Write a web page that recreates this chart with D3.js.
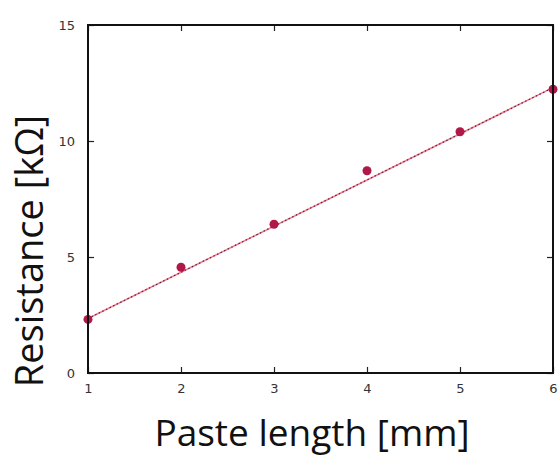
<!DOCTYPE html>
<html><head><meta charset="utf-8">
<script src="https://cdn.jsdelivr.net/npm/d3@7"></script>
<style>body{margin:0;background:#fff}svg{display:block}</style>
</head><body>
<svg id="c" width="560" height="459"></svg>
<script>
const lengths = [1, 2, 3, 4, 5, 6];
const resistance = [2.31, 4.56, 6.41, 8.72, 10.4, 12.23];
const fitX = [1, 6];
const fitY = [2.35, 12.3];
const xTicks = [1, 2, 3, 4, 5, 6];
const yTicks = [0, 5, 10, 15];

const svg = d3.select("#c");
const m = {l: 88, r: 7, t: 25, b: 86};
const W = 560, H = 459;
const x = d3.scaleLinear().domain([1, 6]).range([m.l, W - m.r]);
const y = d3.scaleLinear().domain([0, 15]).range([H - m.b, m.t]);

const g = svg.append("g");
const line = d3.line().x((d, i) => x(fitX[i])).y(d => y(d));
g.append("path").datum(fitY).attr("d", line).attr("fill", "none")
  .attr("stroke", "#f08098").attr("stroke-width", 1.6);
g.append("path").datum(fitY).attr("d", line).attr("fill", "none")
  .attr("stroke", "#6a2035").attr("stroke-width", 1.2).attr("stroke-dasharray", "1.5,2.5");

g.selectAll("circle").data(lengths).join("circle")
  .attr("cx", d => x(d)).attr("cy", (d, i) => y(resistance[i])).attr("r", 4.5)
  .attr("fill", "#b01848");

const tl = 6;
const fontTick = "13px 'DejaVu Sans'";
const axB = d3.axisBottom(x).tickValues(xTicks).tickSize(-tl).tickPadding(tl + 5).tickFormat(d3.format("d"));
const axT = d3.axisTop(x).tickValues(xTicks).tickSize(-tl).tickFormat("");
const axL = d3.axisLeft(y).tickValues(yTicks).tickSize(-tl).tickPadding(tl + 7).tickFormat(d3.format("d"));
const axR = d3.axisRight(y).tickValues(yTicks).tickSize(-tl).tickFormat("");

function style(sel) {
  sel.select(".domain").remove();
  sel.selectAll(".tick line").attr("stroke", "#222").attr("stroke-width", 1.2);
  sel.selectAll(".tick text").attr("fill", "#333").style("font", fontTick);
}
svg.append("g").attr("transform", `translate(0,${H - m.b})`).call(axB).call(style);
svg.append("g").attr("transform", `translate(0,${m.t})`).call(axT).call(style);
svg.append("g").attr("transform", `translate(${m.l},0)`).call(axL).call(style);
svg.append("g").attr("transform", `translate(${W - m.r},0)`).call(axR).call(style);

svg.append("rect").attr("x", m.l).attr("y", m.t).attr("width", W - m.r - m.l).attr("height", H - m.b - m.t)
  .attr("fill", "none").attr("stroke", "#111").attr("stroke-width", 2);

svg.append("text").attr("x", 312).attr("y", 446).attr("text-anchor", "middle")
  .style("font", "37px 'Open Sans'").attr("fill", "#111").text("Paste length [mm]");
svg.append("text").attr("transform", `translate(43,251) rotate(-90)`).attr("text-anchor", "middle")
  .style("font", "38px 'Open Sans'").attr("fill", "#111").text("Resistance [kΩ]");
</script>
</body></html>
